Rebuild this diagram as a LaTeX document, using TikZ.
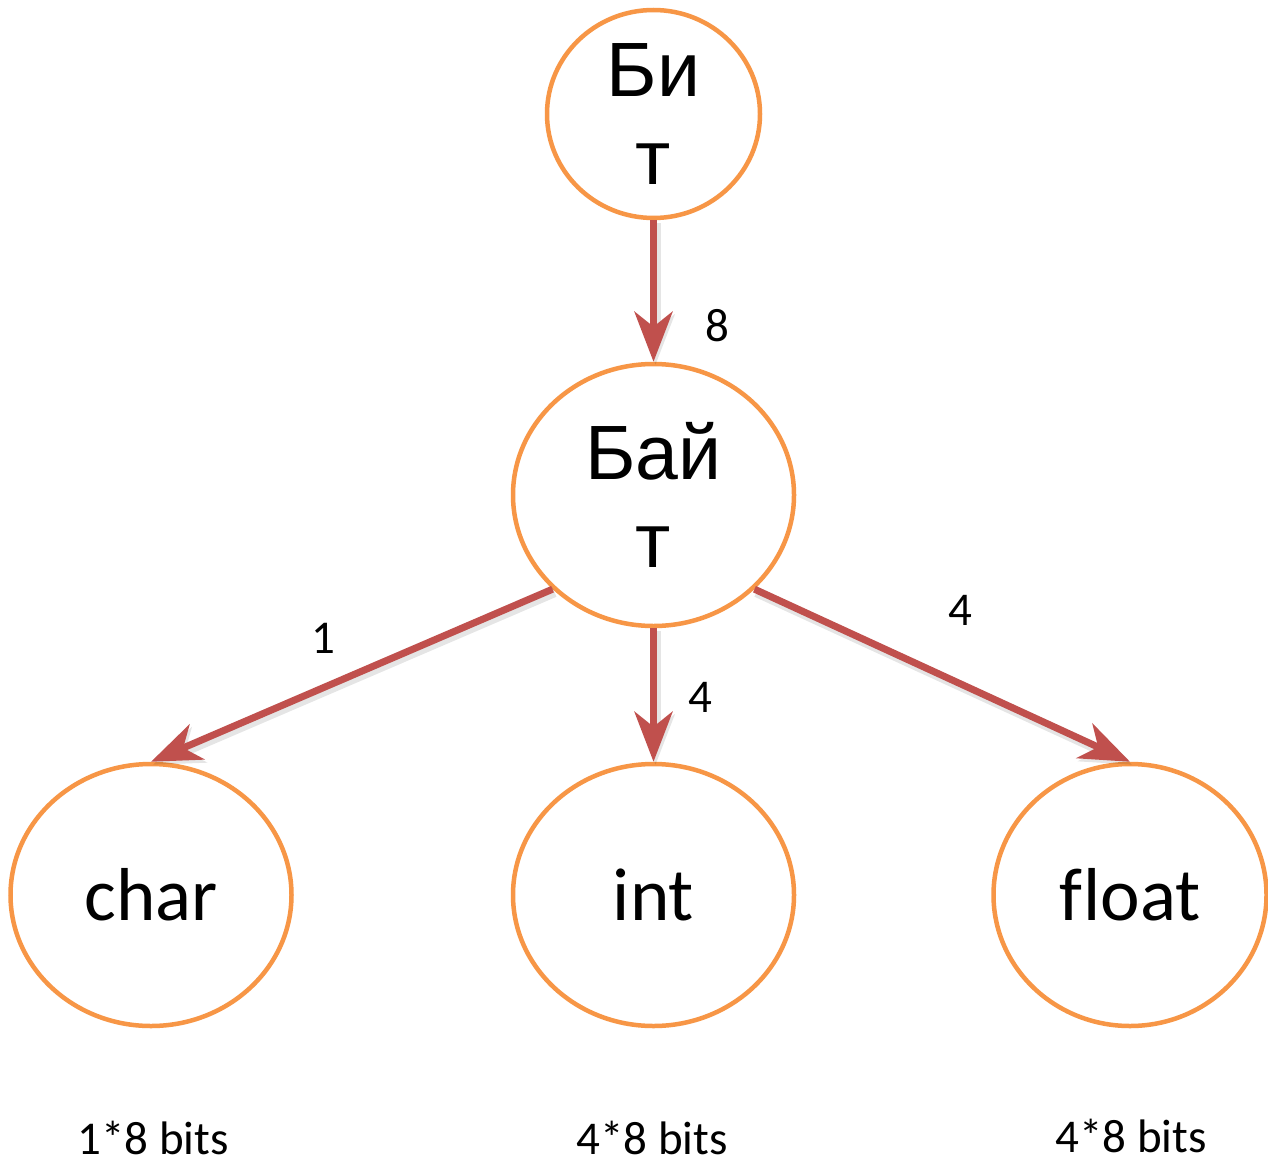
\documentclass[tikz,border=0pt]{standalone}
\usepackage{fontspec}
\setmainfont{Liberation Sans}
\newfontfamily\carl[Ligatures=CommonOff]{Carlito}
\usetikzlibrary{arrows.meta,shapes.geometric}
\definecolor{ringorange}{HTML}{F79646}
\definecolor{arrowred}{HTML}{C0504D}
\tikzset{
  ring/.style={ellipse, draw=ringorange, line width=4.5pt, fill=white, inner sep=0pt, align=center},
  rutext/.style={font=\fontsize{77}{88}\selectfont},
  entext/.style={font=\carl\fontsize{75}{90}\selectfont},
  conn/.style={draw=arrowred, line width=7pt, -{Stealth[length=50pt, width=38pt, inset=15pt]},
    preaction={draw=black, draw opacity=0.10, fill opacity=0.10, line width=10pt, transform canvas={shift={(2pt,-3pt)}}}},
  numlabel/.style={font=\carl\fontsize{47}{56}\selectfont, inner sep=0pt},
  bitslabel/.style={font=\carl\fontsize{47}{56}\selectfont, inner sep=0pt}
}
\begin{document}
\begin{tikzpicture}[x=1pt,y=-1pt]
\useasboundingbox (0,0) rectangle (1268,1161);
\fill[white] (0,0) rectangle (1268,1161);
\node[ring, rutext, minimum width=213pt, minimum height=208pt] (bit) at (653.5,114) {Би\\т};
\node[ring, rutext, minimum width=281pt, minimum height=262pt] (byte) at (653.5,495) {Бай\\т};
\node[ring, entext, minimum width=281pt, minimum height=262pt] (char) at (151,895) {char};
\node[ring, entext, minimum width=281pt, minimum height=262pt] (int) at (653.5,895) {int};
\node[ring, entext, minimum width=273pt, minimum height=262pt] (float) at (1130,895) {f\kern1pt loat};
\draw[conn] (bit.south) -- (byte.north);
\draw[conn] (byte.223) -- (char.north);
\draw[conn] (byte.south) -- (int.north);
\draw[conn] (byte.317) -- (float.north);
\node[numlabel] (l8) at (717,326) {8};
\node[numlabel] (l1) at (323,638) {1};
\node[numlabel] (l4a) at (700,697) {4};
\node[numlabel] (l4b) at (960,610) {4};
\node[bitslabel] (b1) at (153,1138) {1*8 bits};
\node[bitslabel] (b2) at (652,1138) {4*8 bits};
\node[bitslabel] (b3) at (1131,1136) {4*8 bits};
\end{tikzpicture}
\end{document}
